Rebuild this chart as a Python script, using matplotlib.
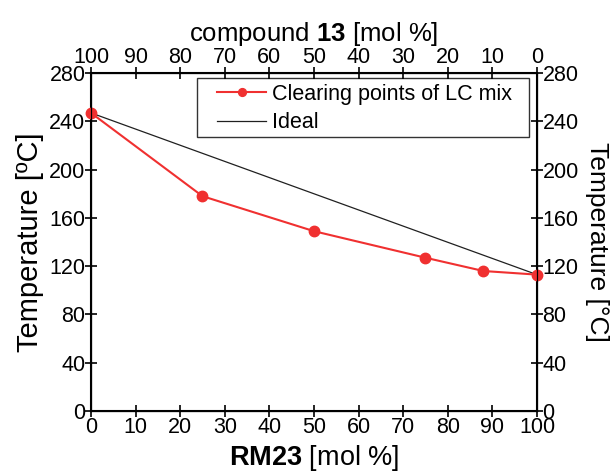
import matplotlib
matplotlib.use('Agg')
import matplotlib.pyplot as plt
from matplotlib.patches import Rectangle

plt.rcParams['font.family'] = ['Liberation Sans', 'DejaVu Sans']
plt.rcParams['mathtext.fontset'] = 'custom'
plt.rcParams['mathtext.rm'] = 'Liberation Sans'
plt.rcParams['mathtext.bf'] = 'Liberation Sans:bold'

# RM23 content [mol %] and clearing points [°C]
rm23 = [0, 25, 50, 75, 88, 100]
clearing = [247, 178, 149, 127, 116, 113]
# ideal mixing line between the pure compounds
ideal_x = [0, 100]
ideal_t = [247, 113]

xticks = list(range(0, 101, 10))
yticks = list(range(0, 281, 40))

fig = plt.figure(figsize=(6.16, 4.72), dpi=100)
ax = fig.add_axes([0.1477, 0.1292, 0.724, 0.716])

ax.plot(ideal_x, ideal_t, color='#202020', lw=0.9, label='Ideal', zorder=2)
ax.plot(rm23, clearing, color='#f03030', lw=1.5, marker='o', ms=7.5,
        label='Clearing points of LC mix', zorder=3, clip_on=False)

tick_kw = dict(direction='inout', length=8, width=1.2, labelsize=15.5, pad=0)

ax.set_xlim(0, 100)
ax.set_ylim(0, 280)
ax.set_xticks(xticks)
ax.set_yticks(yticks)
ax.tick_params(**tick_kw)
for s in ax.spines.values():
    s.set_linewidth(1.5)

ax.set_xlabel(r'$\mathbf{RM23}$ [mol %]', fontsize=19.5, labelpad=4)
ax.set_ylabel('Temperature [ºC]', fontsize=21, labelpad=4)

# top axis: compound 13 content
axt = ax.twiny()
axt.set_xlim(100, 0)
axt.set_xticks(xticks)
axt.tick_params(**tick_kw)
axt.set_xlabel(r'compound $\mathbf{13}$ [mol %]', fontsize=18.5, labelpad=4)

# right axis
axr = ax.twinx()
axr.set_ylim(0, 280)
axr.set_yticks(yticks)
axr.tick_params(**tick_kw)
axr.set_ylabel('Temperature [°C]', fontsize=19, rotation=270, labelpad=22)

# legend box drawn separately (wider side padding than legend allows)
ax.add_patch(Rectangle((0.238, 0.811), 0.744, 0.174, transform=ax.transAxes,
                       facecolor='white', edgecolor='#333333', lw=1.0, zorder=4))
h, l = ax.get_legend_handles_labels()
leg = ax.legend(h[::-1], l[::-1], loc='upper left', bbox_to_anchor=(0.282, 0.968),
                fontsize=15.5, frameon=False, handlelength=2.3, borderpad=0,
                labelspacing=0.35, handletextpad=0.25, markerscale=0.75,
                borderaxespad=0)
leg.set_zorder(5)

fig.savefig('out.png', dpi=100)
